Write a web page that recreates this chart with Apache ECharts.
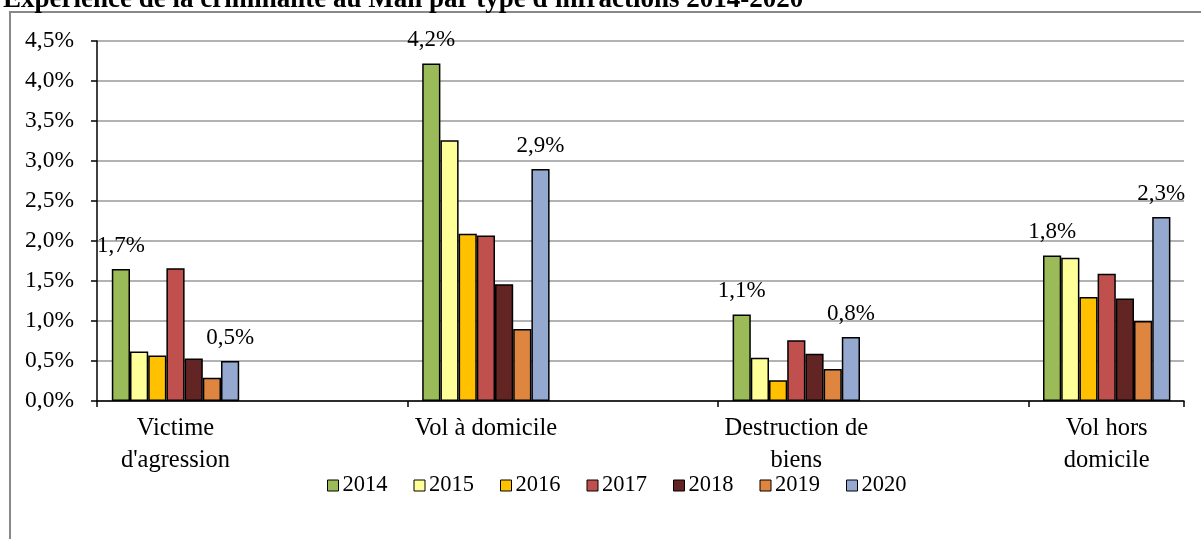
<!DOCTYPE html>
<html><head><meta charset="utf-8">
<script src="https://cdn.jsdelivr.net/npm/echarts@6/dist/echarts.min.js"></script>
<style>html,body{margin:0;padding:0;background:#fff}#c{width:1201px;height:539px}</style>
</head><body><div id="c"></div>
<script>
const titleText = "Expérience de la criminalité au Mali par type d'infractions 2014-2020";
const categories = ["Victime\nd'agression", "Vol à domicile", "Destruction de\nbiens", "Vol hors\ndomicile"];
const years = ["2014", "2015", "2016", "2017", "2018", "2019", "2020"];
const v2014 = [1.65, 4.22, 1.08, 1.82];
const v2015 = [0.62, 3.26, 0.54, 1.79];
const v2016 = [0.57, 2.09, 0.26, 1.30];
const v2017 = [1.66, 2.07, 0.76, 1.59];
const v2018 = [0.53, 1.46, 0.59, 1.28];
const v2019 = [0.29, 0.90, 0.40, 1.00];
const v2020 = [0.50, 2.90, 0.80, 2.30];
const yTicks = [0, 0.5, 1, 1.5, 2, 2.5, 3, 3.5, 4, 4.5];
const colors = ["#9BBB59", "#FFFF99", "#FFC000", "#C0504D", "#632523", "#DE863F", "#95A9D0"];
const labelled = ["2014", "2020"];
const values = [v2014, v2015, v2016, v2017, v2018, v2019, v2020];

const FONT = "'Liberation Serif', 'Times New Roman', serif";
const fmt = v => (Math.round(v * 10) / 10).toFixed(1).replace('.', ',') + '%';

const chart = echarts.init(document.getElementById('c'));
const series = years.map((y, i) => ({
  name: y, type: 'bar', xAxisIndex: 0, yAxisIndex: 0,
  data: values[i], barWidth: 18.2, barGap: '0%',
  itemStyle: { color: colors[i], borderColor: '#000', borderWidth: 1.5 },
  label: {
    show: labelled.includes(y), position: 'top', distance: 12,
    formatter: p => fmt(p.value),
    fontFamily: FONT, fontSize: 23, color: '#000'
  },
  emphasis: { disabled: true }, animation: false
}));

chart.setOption({
  animation: false,
  backgroundColor: '#fff',
  graphic: [
    { type: 'polyline', shape: { points: [[10, 539], [10, 12], [1201, 12]] },
      style: { stroke: '#888', lineWidth: 2, fill: null }, z: 0 },
    { type: 'text', left: 3, top: -13,
      style: { text: titleText, font: "bold 27px " + FONT, fill: '#000' }, z: 10 }
  ],
  legend: {
    data: years, left: 322, top: 469, itemWidth: 11, itemHeight: 11, itemGap: 26,
    icon: 'rect',
    itemStyle: { borderColor: '#000', borderWidth: 1 },
    textStyle: { fontFamily: FONT, fontSize: 22.5, color: '#000', padding: [0, 0, 0, -1] }
  },
  grid: [
    { left: 20.3, width: 1241.6, top: 41, height: 360, containLabel: false, outerBoundsMode: 'none' },
    { left: 97, right: 17, top: 41, bottom: 138, containLabel: false, outerBoundsMode: 'none' }
  ],
  xAxis: [
    { type: 'category', gridIndex: 0, data: categories,
      axisLine: { show: false }, axisTick: { show: false }, splitLine: { show: false },
      axisLabel: { interval: 0, margin: 12, fontFamily: FONT, fontSize: 24.5, lineHeight: 32, color: '#000' } },
    { type: 'value', gridIndex: 1, min: 0, max: 3.5, interval: 1,
      axisLine: { show: true, lineStyle: { color: '#000', width: 1.5 } },
      axisTick: { show: true, length: 6, lineStyle: { color: '#000', width: 1.5 } },
      axisLabel: { show: false }, splitLine: { show: false } }
  ],
  yAxis: [
    { type: 'value', gridIndex: 0, min: 0, max: 4.5, interval: 0.5, show: false },
    { type: 'value', gridIndex: 1, min: 0, max: 4.5, interval: 0.5,
      axisLine: { show: true, lineStyle: { color: '#000', width: 1.5 } },
      axisTick: { show: true, length: 6, lineStyle: { color: '#000', width: 1.5 } },
      axisLabel: { margin: 23, fontFamily: FONT, fontSize: 23.5, color: '#000',
        formatter: v => yTicks.includes(v) ? v.toFixed(1).replace('.', ',') + '%' : '' },
      splitLine: { show: true, lineStyle: { color: '#999', width: 1.5 } } }
  ],
  series: series
});
</script></body></html>
